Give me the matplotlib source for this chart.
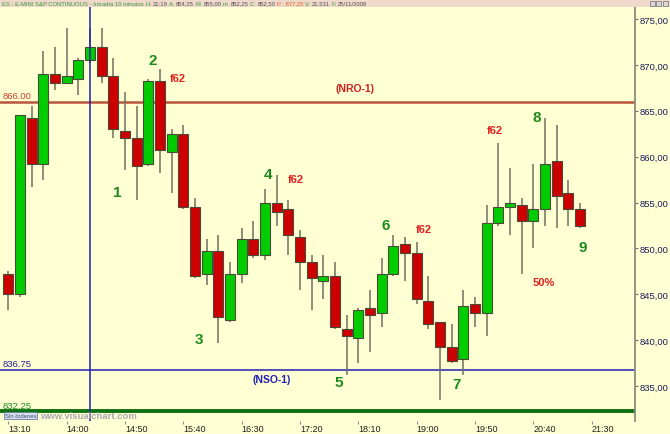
import matplotlib
matplotlib.use('Agg')
import matplotlib.pyplot as plt
from matplotlib.patches import Rectangle
from matplotlib.text import Annotation

plt.rcParams['font.family'] = ['Liberation Sans', 'DejaVu Sans']

# ---------------- data ----------------
time_labels = ['13:10', '14:00', '14:50', '15:40', '16:30', '17:20',
               '18:10', '19:00', '19:50', '20:40', '21:30']
time_ticks = [0, 5, 10, 15, 20, 25, 30, 35, 40, 45, 50]

opens = [847.25, 845.0, 864.25, 859.25, 869.0, 868.0, 868.5, 870.5, 872.0, 868.75,
         862.75, 862.0, 859.25, 868.25, 860.5, 862.5, 854.5, 847.25, 849.75, 842.25,
         847.25, 851.0, 849.25, 855.0, 854.25, 851.25, 848.5, 846.5, 847.0, 841.25,
         840.25, 843.5, 843.0, 847.25, 850.5, 849.5, 844.25, 842.0, 839.25, 838.0,
         844.0, 843.0, 852.75, 854.5, 854.75, 853.0, 854.25, 859.5, 856.0, 854.25]
highs = [847.5, 864.5, 865.5, 871.5, 872.0, 874.0, 870.75, 874.0, 874.0, 870.75,
         867.0, 865.5, 868.5, 869.5, 863.0, 863.5, 855.5, 851.0, 851.5, 848.5,
         852.25, 853.0, 856.5, 858.0, 855.25, 852.0, 849.25, 849.25, 848.5, 842.75,
         843.5, 845.5, 849.0, 851.5, 851.25, 850.75, 847.0, 842.0, 841.75, 845.5,
         844.75, 854.75, 861.5, 858.75, 855.5, 859.25, 864.25, 863.5, 857.5, 855.0]
lows = [843.25, 844.75, 856.75, 857.5, 867.25, 868.0, 866.75, 870.25, 868.0, 862.0,
        858.5, 855.25, 859.0, 858.25, 856.0, 854.25, 846.75, 846.0, 839.75, 842.0,
        846.25, 849.0, 848.75, 852.5, 849.25, 845.5, 843.25, 844.5, 841.25, 836.25,
        837.5, 838.75, 841.5, 847.0, 846.5, 844.0, 841.25, 833.5, 837.5, 836.25,
        841.5, 840.5, 852.5, 851.5, 847.25, 850.0, 852.5, 852.25, 852.5, 852.25]
closes = [845.0, 864.5, 859.25, 869.0, 868.0, 868.75, 870.5, 872.0, 868.75, 863.0,
          862.0, 859.0, 868.25, 860.75, 862.5, 854.5, 847.0, 849.75, 842.5, 847.25,
          851.0, 849.25, 855.0, 854.0, 851.5, 848.5, 846.75, 847.0, 841.5, 840.5,
          843.25, 842.75, 847.25, 850.25, 849.5, 844.5, 841.75, 839.25, 837.75, 843.75,
          843.0, 852.75, 854.5, 855.0, 853.0, 854.25, 859.25, 855.75, 854.25, 852.5]

price_ticks = [835, 840, 845, 850, 855, 860, 865, 870, 875]

nro_level = 866.00
nso_level = 836.75
low_level = 832.25
cursor_bar = 7

wave_labels = ['1', '2', '3', '4', '5', '6', '7', '8', '9']
wave_x = [9.3, 12.4, 16.35, 22.25, 28.3, 32.3, 38.4, 45.3, 49.25]
wave_y = [856.15, 870.5, 840.15, 858.1, 835.45, 852.55, 835.25, 864.3, 850.15]

fib_labels = ['f62', 'f62', 'f62', 'f62', '50%']
fib_x = [14.55, 24.65, 35.6, 41.7, 45.9]
fib_y = [868.55, 857.55, 852.1, 862.9, 846.35]

header_segments = [
    ('ES - E-MINI S&P CONTINUOUS - Intradía 10 minutos', 'g'),
    ('H:', 'g'), ('21:19', 'k'),
    ('A:', 'g'), ('854,25', 'k'),
    ('M:', 'g'), ('855,00', 'k'),
    ('m:', 'g'), ('852,25', 'k'),
    ('C:', 'g'), ('852,50', 'k'),
    ('P : 877,25', 'o'),
    ('V:', 'g'), ('21.531', 'k'),
    ('F:', 'g'), ('25/11/2008', 'k'),
]

# ---------------- figure ----------------
W, H = 670, 435
BG = '#FFFFD4'
fig = plt.figure(figsize=(W / 100, H / 100), dpi=100, facecolor=BG)

ax_left, ax_right, ax_top, ax_bot = 0, 635, 8, 422
ax = fig.add_axes([ax_left / W, 1 - ax_bot / H, (ax_right - ax_left) / W, (ax_bot - ax_top) / H])
ax.set_facecolor(BG)

px_per_bar = 11.67
x0_px = 8.3
ax.set_xlim(-x0_px / px_per_bar, (ax_right - x0_px) / px_per_bar)
px_per_pt = 9.18
ax.set_ylim(875 - (ax_bot - 20) / px_per_pt, 875 + (20 - ax_top) / px_per_pt)

# reference lines
ax.axhline(nro_level, color='#B8553A', lw=1.8, zorder=1)
ax.axhline(nso_level, color='#1F1FB0', lw=1.1, zorder=1)
ax.axhline(low_level, color='#117011', lw=2.8, zorder=1)
ax.axvline(cursor_bar, color='#1F1FB0', lw=1.1, zorder=4)

# candles
up_col, dn_col = '#00CC00', '#CC0000'
idx = list(range(len(opens)))
ax.vlines(idx, lows, highs, color='#707060', lw=1.1, zorder=2)
bottoms = [min(o, c) for o, c in zip(opens, closes)]
heights = [max(abs(c - o), 0.12) for o, c in zip(opens, closes)]
colors = [up_col if c >= o else dn_col for o, c in zip(opens, closes)]
ax.bar(idx, heights, bottom=bottoms, width=0.86, color=colors,
       edgecolor='#4A4A3A', linewidth=0.8, zorder=3)

# level labels
xl = ax.get_xlim()[0] + 0.2
ax.text(xl, nro_level + 0.2, '866.00', color='#C8402A', fontsize=6.8, va='bottom', ha='left')
ax.text(xl, nso_level + 0.2, '836.75', color='#2020A0', fontsize=6.8, va='bottom', ha='left')
ax.text(xl, low_level + 0.2, '832.25', color='#1E8A1E', fontsize=6.8, va='bottom', ha='left')
ax.text(29.7, 867.45, '(NRO-1)', color='#D02020', fontsize=7.5, fontweight='bold', ha='center', va='center')
ax.text(22.6, 835.75, '(NSO-1)', color='#1F1FB0', fontsize=7.5, fontweight='bold', ha='center', va='center')

for s, x, y in zip(wave_labels, wave_x, wave_y):
    ax.text(x, y, s, color='#1E8A1E', fontsize=11, fontweight='bold', ha='center', va='center', zorder=5)
for s, x, y in zip(fib_labels, fib_x, fib_y):
    ax.text(x, y, s, color='#E02020', fontsize=8, fontweight='bold', ha='center', va='center', zorder=5)

# axes styling
for side in ['top', 'left', 'bottom']:
    ax.spines[side].set_visible(False)
ax.spines['right'].set_color('#8C8C80')
ax.spines['right'].set_linewidth(1.3)
ax.yaxis.tick_right()
ax.set_yticks(price_ticks)
ax.set_yticklabels([f'{p:.2f}'.replace('.', ',') for p in price_ticks])
ax.tick_params(axis='y', length=2.5, width=0.8, color='#707070', pad=0.5,
               labelsize=6.8, labelcolor='#1C1C5C')
ax.set_xticks(time_ticks)
ax.set_xticklabels(time_labels)
ax.tick_params(axis='x', length=2, width=0.8, color='#909090', pad=0.2,
               labelsize=6.5, labelcolor='#202020')
for lab in ax.get_xticklabels():
    lab.set_ha('left')

# header band
fig.patches.append(Rectangle((0, 1 - 8 / H), 1, 8 / H, transform=fig.transFigure,
                             facecolor='#EFD9CB', edgecolor='none', zorder=0))
col_map = {'g': '#3A9A3A', 'k': '#505050', 'o': '#E06020'}
last = None
for s, c in header_segments:
    if last is None:
        last = fig.text(2 / W, 1 - 4.2 / H, s, color=col_map[c], fontsize=4.2,
                        va='center', ha='left')
    else:
        last = fig.add_artist(Annotation(s, xy=(1, 0), xycoords=last, xytext=(1.1, 0),
                                         textcoords='offset points', va='bottom', ha='left',
                                         color=col_map[c], fontsize=4.2))

# window buttons
for k in range(3):
    fig.patches.append(Rectangle(((650 + k * 6.3) / W, 1 - 7 / H), 5 / W, 5.5 / H,
                                 transform=fig.transFigure, facecolor='#D8D8D8',
                                 edgecolor='#707070', lw=0.5))

# bottom-left status widgets
fig.patches.append(Rectangle((4 / W, 1 - 420 / H), 33 / W, 7 / H, transform=fig.transFigure,
                             facecolor='#D6E0EC', edgecolor='#6A7A9A', lw=0.6, zorder=5))
fig.text(20.5 / W, 1 - 416.5 / H, 'Sin órdenes', fontsize=4.2, color='#40507A',
         ha='center', va='center', zorder=6)
fig.text(40 / W, 1 - 416.5 / H, 'www.visualchart.com', fontsize=6.8, color='#A8A8B4',
         fontweight='bold', ha='left', va='center', zorder=6)

fig.savefig('out.png', dpi=100, facecolor=BG)
